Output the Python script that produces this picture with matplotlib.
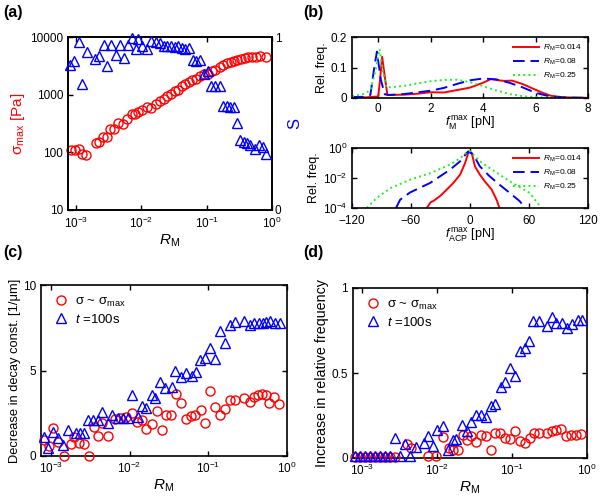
import matplotlib
matplotlib.use('Agg')
import matplotlib.pyplot as plt
from matplotlib.ticker import FixedLocator, FixedFormatter, NullLocator, LogLocator, LogFormatterSciNotation

plt.rcParams.update({
    'font.family': ['Liberation Sans', 'DejaVu Sans'],
    'mathtext.fontset': 'custom',
    'mathtext.rm': 'Liberation Sans',
    'mathtext.it': 'Liberation Sans:italic',
    'mathtext.bf': 'Liberation Sans:bold',
    'font.size': 8.5,
    'xtick.direction': 'in', 'ytick.direction': 'in',
    'xtick.top': True, 'ytick.right': True,
    'axes.linewidth': 1.2,
    'xtick.major.size': 3.5, 'ytick.major.size': 3.5,
    'xtick.major.width': 1.0, 'ytick.major.width': 1.0,
    'xtick.minor.size': 0, 'ytick.minor.size': 0,
    'xtick.labelsize': 8.5, 'ytick.labelsize': 8.5,
})

# ---------------- data: panel (a) ----------------
a_rm_sigma = [0.00082, 0.00097, 0.00109, 0.00122, 0.00144, 0.00202, 0.00227, 0.00255, 0.00297, 0.00334,
              0.00384, 0.00442, 0.00514, 0.00598, 0.00705, 0.00791, 0.0090, 0.01035, 0.01205, 0.0142,
              0.0165, 0.0192, 0.0221, 0.0249, 0.0286, 0.0322, 0.0362, 0.0421, 0.0473, 0.0532,
              0.0598, 0.0697, 0.0802, 0.0921, 0.1035, 0.1205, 0.1355, 0.158, 0.177, 0.204,
              0.235, 0.264, 0.296, 0.341, 0.388, 0.436, 0.502, 0.570, 0.656, 0.811]
a_sigma = [111, 111, 116, 94, 90, 144, 149, 188, 183, 255,
           255, 321, 312, 381, 466, 454, 499, 533, 610, 585,
           697, 776, 851, 935, 1014, 1159, 1223, 1397, 1555, 1663,
           1778, 1901, 2089, 2264, 2323, 2587, 2730, 3039, 3250, 3475,
           3615, 3866, 3972, 4074, 4246, 4416, 4540, 4540, 4667, 4540]
a_rm_S = [0.00081, 0.00094, 0.00109, 0.00123, 0.00145, 0.00197, 0.00227, 0.00297, 0.00264, 0.00341,
          0.00407, 0.00473, 0.00532, 0.00612, 0.00705, 0.0082, 0.0089, 0.01035, 0.01205, 0.0142,
          0.0165, 0.0192, 0.0221, 0.0249, 0.0286, 0.0322, 0.0362, 0.0421, 0.0473, 0.0532,
          0.0619, 0.0697, 0.0802, 0.0921, 0.1035, 0.1164, 0.1355, 0.158, 0.177, 0.204,
          0.229, 0.264, 0.296, 0.318, 0.366, 0.411, 0.462, 0.551, 0.641, 0.738, 0.811]
a_S = [0.839, 0.864, 0.969, 0.729, 0.911, 0.872, 0.888, 0.833, 0.955, 0.955,
       0.897, 0.955, 0.878, 0.955, 0.995, 0.930, 0.988, 0.946, 0.930, 0.975,
       0.969, 0.965, 0.946, 0.950, 0.946, 0.942, 0.946, 0.936, 0.930, 0.936,
       0.868, 0.864, 0.868, 0.787, 0.806, 0.717, 0.717, 0.717, 0.601, 0.601,
       0.593, 0.593, 0.504, 0.407, 0.393, 0.388, 0.374, 0.355, 0.374, 0.364, 0.326]

# ---------------- data: panel (b) top ----------------
bt_x_r = [-1, -0.5, 0.0, 0.07, 0.15, 0.25, 0.35, 0.5, 1, 1.5, 2, 2.5, 3, 3.5, 4, 4.3, 4.6, 4.8, 5.1, 5.5, 6, 6.3, 6.6, 7, 7.5, 8]
bt_y_r = [0.002, 0.002, 0.005, 0.06, 0.135, 0.07, 0.01, 0.01, 0.011, 0.014, 0.019, 0.018, 0.026, 0.034, 0.05, 0.062, 0.058, 0.056, 0.057, 0.046, 0.027, 0.016, 0.007, 0.003, 0.001, 0.0005]
bt_x_b = [-1, -0.5, -0.3, -0.15, -0.05, 0.1, 0.25, 0.4, 1, 2, 2.5, 3, 3.5, 4, 4.5, 5, 5.5, 6, 6.5, 7, 8]
bt_y_b = [0.003, 0.004, 0.01, 0.1, 0.152, 0.06, 0.012, 0.01, 0.013, 0.024, 0.033, 0.046, 0.058, 0.064, 0.061, 0.05, 0.035, 0.017, 0.006, 0.002, 0.0005]
bt_x_g = [-1, -0.6, -0.3, -0.1, 0.05, 0.15, 0.3, 0.6, 1, 1.5, 2, 2.5, 3, 3.5, 4, 4.5, 5, 5.5, 6, 6.5, 7, 8]
bt_y_g = [0.006, 0.012, 0.025, 0.09, 0.16, 0.1, 0.035, 0.036, 0.04, 0.048, 0.055, 0.059, 0.06, 0.052, 0.039, 0.025, 0.013, 0.006, 0.003, 0.001, 0.0005, 0.0]

# ---------------- data: panel (b) bottom ----------------
bb_x_r = [-44, -40, -37, -30, -23.6, -16.9, -10, -5, -1.7, 0, 1.7, 5, 10, 15, 22, 27, 30]
bb_y_r = [1e-4, 2.4e-4, 3e-4, 6.6e-4, 1.7e-3, 4.7e-3, 1.7e-2, 0.1, 0.47, 0.55, 0.47, 0.06, 1.7e-2, 6e-3, 1.7e-3, 3.6e-4, 1e-4]
bb_x_b = [-75.3, -71, -60.8, -40.5, -20.3, -10, -3.4, -1.7, 3.4, 10, 20, 30, 40.5, 50.7, 55.7]
bb_y_b = [1e-4, 3.6e-4, 1.1e-3, 4.7e-3, 0.036, 0.13, 0.46, 0.6, 0.36, 0.06, 0.013, 3.6e-3, 1e-3, 2.8e-4, 1e-4]
bb_x_g = [-105, -95, -80.4, -60.8, -40.5, -20.3, -10, -3.4, 0, 3.4, 10, 20, 40.5, 60.8, 72.6]
bb_y_g = [1e-4, 4.6e-4, 2.2e-3, 7.7e-3, 0.021, 0.078, 0.21, 0.51, 0.63, 0.36, 0.13, 0.046, 6e-3, 1e-3, 1e-4]
b_labels = ['0.014', '0.08', '0.25']

# ---------------- data: panel (c) ----------------
c_rm_s = [0.000807, 0.000934, 0.00108, 0.00122, 0.00148, 0.00179, 0.00198, 0.00231, 0.00260, 0.00301,
          0.00349, 0.00392, 0.00450, 0.00525, 0.00651, 0.00754, 0.00889, 0.0106, 0.0123, 0.0142,
          0.0164, 0.0190, 0.0220, 0.0258, 0.0292, 0.0335, 0.0392, 0.0450, 0.0525, 0.0602,
          0.0684, 0.0807, 0.0916, 0.106, 0.123, 0.142, 0.164, 0.190, 0.220, 0.281,
          0.335, 0.377, 0.428, 0.481, 0.546, 0.585, 0.690, 0.783]
c_s = [0.94, 0.58, 1.62, 0.84, 0.0, 0.70, 1.09, 0.74, 0.70, 0.0,
       1.72, 1.17, 1.91, 1.17, 2.14, 2.20, 2.30, 2.53, 2.01, 2.11,
       1.58, 1.87, 2.65, 1.52, 2.40, 2.40, 3.61, 3.12, 2.14, 2.34,
       2.40, 2.69, 1.95, 3.82, 2.88, 2.40, 2.73, 3.27, 3.27, 3.37,
       3.18, 3.47, 3.57, 3.61, 3.57, 3.08, 3.43, 3.04]
c_rm_t = [0.000823, 0.000925, 0.00107, 0.00124, 0.00144, 0.00166, 0.00206, 0.00234, 0.00265, 0.00293,
          0.00345, 0.0040, 0.0045, 0.00525, 0.00602, 0.00718, 0.0083, 0.00944, 0.0108, 0.01265,
          0.0142, 0.0160, 0.0190, 0.0210, 0.0245, 0.0284, 0.0345, 0.0381, 0.0450, 0.0525,
          0.0620, 0.0703, 0.0791, 0.0916, 0.106, 0.123, 0.142, 0.164, 0.190, 0.220,
          0.281, 0.335, 0.385, 0.437, 0.495, 0.546, 0.614, 0.711, 0.807]
c_t = [1.13, 0.45, 1.42, 1.03, 0.64, 1.52, 1.33, 1.33, 1.36, 2.11,
       2.11, 2.11, 2.59, 1.91, 2.40, 2.20, 2.20, 2.24, 3.57, 2.30,
       2.92, 2.79, 3.57, 3.37, 4.35, 3.96, 4.02, 4.97, 4.64, 4.87,
       4.68, 4.93, 5.61, 5.71, 6.30, 5.65, 7.33, 6.59, 7.66, 7.86,
       7.91, 7.66, 7.76, 7.80, 7.80, 7.86, 7.91, 7.80, 7.80]

# ---------------- data: panel (d) ----------------
d_rm_s = [0.00079, 0.00092, 0.00107, 0.00128, 0.00146, 0.00170, 0.00199, 0.00237, 0.00270,
          0.00395, 0.00451, 0.00753, 0.00973, 0.0119, 0.0142, 0.0163, 0.0189, 0.0221, 0.0252,
          0.0285, 0.0333, 0.0380, 0.0453, 0.0517, 0.0597, 0.0683, 0.0795, 0.0927, 0.108,
          0.126, 0.147, 0.171, 0.196, 0.226, 0.295, 0.341, 0.389, 0.454, 0.530, 0.617, 0.719, 0.839]
d_s = [0.005, 0.005, 0.005, 0.005, 0.005, 0.005, 0.005, 0.005, 0.005,
       0.084, 0.059, 0.01, 0.01, 0.123, 0.059, 0.045, 0.049, 0.137, 0.107,
       0.131, 0.092, 0.137, 0.131, 0.049, 0.150, 0.146, 0.117, 0.111, 0.156,
       0.098, 0.088, 0.117, 0.150, 0.150, 0.150, 0.156, 0.166, 0.170, 0.131, 0.137, 0.137, 0.143]
d_rm_t = [0.00079, 0.00092, 0.00107, 0.00128, 0.00146, 0.00170, 0.00199, 0.00237, 0.00270, 0.00315,
          0.00367, 0.00437, 0.00526, 0.00659, 0.00753, 0.00878, 0.0100, 0.0119, 0.0139, 0.0163,
          0.0180, 0.0216, 0.0250, 0.0285, 0.0333, 0.0388, 0.0453, 0.0517, 0.0597, 0.0703,
          0.0812, 0.0927, 0.108, 0.126, 0.147, 0.166, 0.190, 0.226, 0.295, 0.341,
          0.389, 0.463, 0.546, 0.630, 0.757, 0.857]
d_t = [0.01, 0.01, 0.01, 0.01, 0.01, 0.01, 0.01, 0.01, 0.117, 0.01,
       0.084, 0.014, 0.064, 0.088, 0.127, 0.068, 0.166, 0.186, 0.049, 0.104,
       0.111, 0.195, 0.156, 0.209, 0.254, 0.254, 0.240, 0.303, 0.318, 0.416,
       0.449, 0.531, 0.482, 0.631, 0.645, 0.689, 0.807, 0.807, 0.775, 0.830,
       0.795, 0.795, 0.762, 0.787, 0.811, 0.811]

RED = '#ff0000'
BLUE = '#0000ff'
GREEN = '#22ee22'
XLIM = (0.00075, 1.0)

W, H = 602, 500
fig = plt.figure(figsize=(W / 100, H / 100), dpi=100)


def box(l, t, r, b):
    return [l / W, 1 - b / H, (r - l) / W, (b - t) / H]


def logx(ax):
    ax.set_xscale('log')
    ax.set_xlim(*XLIM)
    ax.xaxis.set_major_locator(LogLocator(base=10, numticks=10))
    ax.xaxis.set_minor_locator(NullLocator())
    ax.xaxis.set_major_formatter(LogFormatterSciNotation())


mk_c = dict(marker='o', ls='none', mfc='none', mew=1.0, ms=6.5, clip_on=False)
mk_t = dict(marker='^', ls='none', mfc='none', mew=1.0, ms=7, clip_on=False)

# ---------------- panel (a) ----------------
ax = fig.add_axes(box(68, 37, 272, 210))
logx(ax)
ax.set_yscale('log')
ax.set_ylim(10, 10000)
ax.yaxis.set_major_locator(FixedLocator([10, 100, 1000, 10000]))
ax.yaxis.set_major_formatter(FixedFormatter(['10', '100', '1000', '10000']))
ax.yaxis.set_minor_locator(NullLocator())
ax.plot(a_rm_sigma, a_sigma, color=RED, zorder=3, **mk_c)
ax.set_ylabel('σ$_{\\rm max}$ [Pa]', color=RED, fontsize=11, labelpad=2)
ax.set_xlabel('$R_{\\rm M}$', fontsize=11, labelpad=1)
ax.tick_params(right=True, top=True)
ax.tick_params(axis='x', pad=4)
ax2 = ax.twinx()
ax2.set_ylim(0, 1)
ax2.yaxis.set_major_locator(FixedLocator([0, 1]))
ax2.yaxis.set_major_formatter(FixedFormatter(['0', '1']))
ax2.tick_params(axis='y', right=True, left=False, length=0, pad=2)
ax2.plot(a_rm_S, a_S, color=BLUE, zorder=3, **mk_t)
ax2.set_ylabel('S', color=BLUE, fontsize=12, labelpad=4)
ax.set_xlim(*XLIM)

# ---------------- panel (b) top ----------------
bt = fig.add_axes(box(352, 37, 588, 98))
bt.plot(bt_x_r, bt_y_r, color=RED, lw=1.4, label='$R_{\\rm M}$=' + b_labels[0])
bt.plot(bt_x_b, bt_y_b, color=BLUE, lw=1.4, dashes=(6, 3), label='$R_{\\rm M}$=' + b_labels[1])
bt.plot(bt_x_g, bt_y_g, color=GREEN, lw=1.4, ls=':', label='$R_{\\rm M}$=' + b_labels[2])
bt.set_xlim(-1, 8)
bt.set_ylim(0, 0.2)
bt.set_xticks([0, 2, 4, 6, 8])
bt.set_yticks([0, 0.1, 0.2])
bt.set_yticklabels(['0', '0.1', '0.2'])
bt.set_ylabel('Rel. freq.', fontsize=9, labelpad=2)
bt.set_xlabel('$f^{\\,\\rm max}_{\\rm M}$ [pN]', fontsize=9, labelpad=0)
bt.legend(loc='upper right', frameon=False, fontsize=6, handlelength=3.2,
          handletextpad=0.5, labelspacing=0.45, borderaxespad=0.3)

# ---------------- panel (b) bottom ----------------
bb = fig.add_axes(box(352, 148, 588, 208))
bb.plot(bb_x_r, bb_y_r, color=RED, lw=1.4, label='$R_{\\rm M}$=' + b_labels[0])
bb.plot(bb_x_b, bb_y_b, color=BLUE, lw=1.4, dashes=(6, 3), label='$R_{\\rm M}$=' + b_labels[1])
bb.plot(bb_x_g, bb_y_g, color=GREEN, lw=1.4, ls=':', label='$R_{\\rm M}$=' + b_labels[2])
bb.set_yscale('log')
bb.set_ylim(1e-4, 1)
bb.set_xlim(-120, 120)
bb.set_xticks([-120, -60, 0, 60, 120])
bb.yaxis.set_major_locator(FixedLocator([1e-4, 1e-2, 1]))
bb.yaxis.set_major_formatter(LogFormatterSciNotation())
bb.yaxis.set_minor_locator(NullLocator())
bb.tick_params(axis='x', pad=5)
bb.set_ylabel('Rel. freq.', fontsize=9, labelpad=2)
bb.set_xlabel('$f^{\\,\\rm max}_{\\rm ACP}$ [pN]', fontsize=9, labelpad=0)
bb.legend(loc='upper right', frameon=False, fontsize=6, handlelength=3.2,
          handletextpad=0.5, labelspacing=0.45, borderaxespad=0.3)

# ---------------- panel (c) ----------------
axc = fig.add_axes(box(41, 285, 287, 456))
logx(axc)
axc.plot(c_rm_s, c_s, color=RED, label='σ ~ σ$_{\\rm max}$', zorder=3, **mk_c)
axc.plot(c_rm_t, c_t, color=BLUE, label='$t$ =100s', zorder=3, **mk_t)
axc.set_ylim(0, 10)
axc.set_yticks([0, 5, 10])
axc.set_ylabel('Decrease in decay const. [1/μm]', fontsize=9.3, labelpad=1)
axc.set_xlabel('$R_{\\rm M}$', fontsize=11, labelpad=1)
axc.legend(loc='upper left', frameon=False, fontsize=9.5, handletextpad=0.3,
           labelspacing=0.3, borderaxespad=0.4, handlelength=1.5)

# ---------------- panel (d) ----------------
axd = fig.add_axes(box(353, 288, 587, 458))
logx(axd)
axd.plot(d_rm_s, d_s, color=RED, label='σ ~ σ$_{\\rm max}$', zorder=3, **mk_c)
axd.plot(d_rm_t, d_t, color=BLUE, label='$t$ =100s', zorder=3, **mk_t)
axd.set_ylim(0, 1)
axd.set_yticks([0, 0.5, 1])
axd.set_yticklabels(['0', '0.5', '1'])
axd.set_ylabel('Increase in relative frequency', fontsize=10.3, labelpad=2)
axd.set_xlabel('$R_{\\rm M}$', fontsize=11, labelpad=1)
axd.legend(loc='upper left', frameon=False, fontsize=9.5, handletextpad=0.3,
           labelspacing=0.3, borderaxespad=0.4, handlelength=1.5)

# panel labels
for lab, x, y in [('(a)', 3, 12), ('(b)', 303, 12), ('(c)', 3, 252), ('(d)', 303, 252)]:
    fig.text(x / W, 1 - y / H, lab, fontsize=11.5, fontweight='bold', va='center', ha='left')

fig.savefig('out.png', dpi=100)
